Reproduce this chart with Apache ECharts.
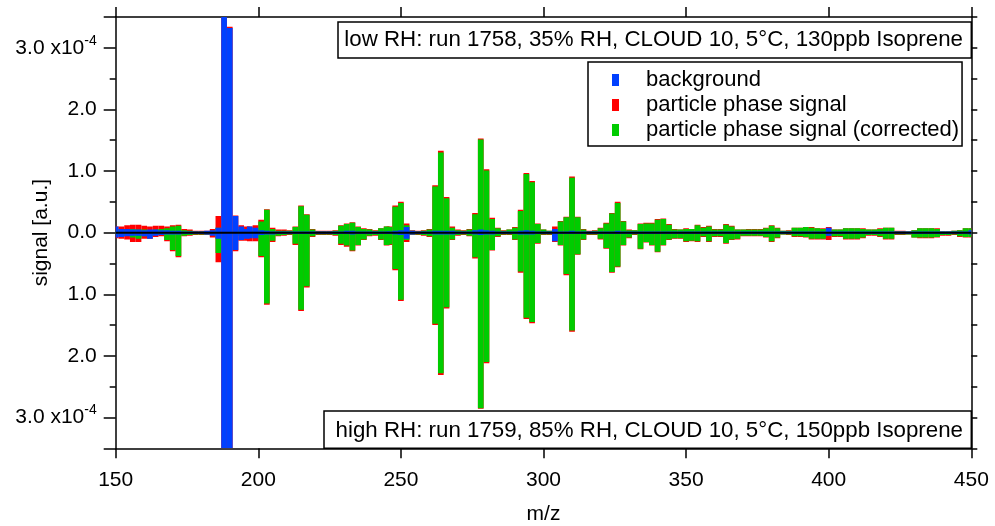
<!DOCTYPE html>
<html>
<head>
<meta charset="utf-8">
<title>signal vs m/z</title>
<script src="https://cdn.jsdelivr.net/npm/echarts@6/dist/echarts.min.js"></script>
<style>
  html, body { margin: 0; padding: 0; background: #fff; }
  #chart { width: 995px; height: 526px; }
</style>
</head>
<body>
<div id="chart"></div>
<script>
// bar centres (m/z), each bar is 2 units wide
var mz = [
  150,152,154,156,158,160,162,164,166,168,170,172,174,176,178,180,182,184,186,188,190,192,194,196,
  197,199,201,203,205,207,209,211,213,215,217,219,221,223,225,227,229,231,233,235,237,239,241,243,245,
  246,248,250,252,254,256,258,260,262,264,
  266,268,270,272,274,276,278,280,282,284,
  286,288,290,292,294,296,298,300,302,304,
  306,308,310,312,314,316,318,320,322,324,
  326,328,330,332,334,336,338,340,342,344,
  346,348,350,352,354,356,358,360,362,364,
  366,368,370,372,374,376,378,380,382,384,
  386,388,390,392,394,396,398,400,402,404,
  406,408,410,412,414,416,418,420,422,424,
  426,428,430,432,434,436,438,440,442,444,
  446,448,450
];

// low RH (upper half), signal in 1e-4
var lowSignal = [
  .10,.10,.12,.13,.13,.11,.10,.11,.11,.10,.12,.13,.06,.05,.03,.03,.03,.06,.27,3.6,3.34,.28,.12,.10,
  .10,.12,.21,.38,.08,.05,.05,.04,.10,.44,.30,.06,.03,.03,.03,.04,.12,.15,.17,.10,.07,.06,.04,.07,.10,
  .10,.44,.50,.15,.04,.03,.04,.06,.77,1.33,
  .58,.10,.05,.04,.06,.32,1.53,1.03,.24,.08,
  .04,.05,.09,.37,.97,.84,.15,.05,.03,.10,
  .19,.26,.91,.26,.06,.03,.04,.08,.16,.32,
  .50,.19,.05,.04,.15,.16,.16,.22,.23,.14,
  .06,.05,.07,.06,.13,.09,.11,.06,.06,.14,
  .11,.05,.05,.06,.06,.06,.08,.12,.08,.03,
  .04,.08,.08,.09,.09,.07,.07,.09,.05,.05,
  .07,.07,.07,.07,.05,.05,.07,.08,.08,.03,
  .03,.02,.04,.07,.07,.07,.07,.02,.02,.03,
  .04,.07,.07
];
var lowCorrected = [
  .04,.05,.06,.06,.05,.05,.04,.05,.06,.07,.10,.11,.04,.03,.02,.02,.02,.03,.08,0,0,.05,.05,.04,
  .03,.05,.18,.37,.06,.03,.03,.03,.09,.43,.29,.05,.02,.02,.02,.03,.11,.14,.16,.09,.06,.05,.03,.07,.10,
  .09,.42,.48,.12,.03,.02,.03,.05,.75,1.30,
  .56,.08,.04,.03,.05,.30,1.51,1.01,.22,.07,
  .03,.05,.08,.35,.95,.82,.14,.05,.03,.04,
  .18,.25,.89,.25,.05,.02,.03,.07,.15,.31,
  .48,.18,.04,.04,.14,.15,.15,.21,.22,.13,
  .05,.05,.06,.06,.12,.08,.10,.05,.05,.13,
  .10,.05,.05,.05,.05,.05,.07,.11,.07,.03,
  .03,.08,.08,.09,.08,.07,.06,.04,.05,.05,
  .07,.07,.07,.06,.05,.05,.06,.08,.08,.02,
  .02,.02,.04,.07,.07,.07,.06,.02,.02,.03,
  .04,.07,.07
];
var lowBackground = [
  .10,.06,.06,.05,.05,.04,.05,.05,.04,.04,.03,.03,.02,.02,.02,.02,.03,.04,.08,3.6,3.32,.27,.10,.06,
  .10,.08,.04,.03,.02,.02,.02,.02,.02,.02,.02,.02,.02,.02,.02,.02,.02,.03,.03,.02,.02,.02,.02,.02,.02,
  .02,.03,.04,.09,.03,.02,.02,.02,.03,.03,
  .03,.03,.02,.02,.02,.04,.05,.04,.03,.02,
  .02,.02,.02,.03,.04,.03,.02,.02,.02,.06,
  .02,.02,.03,.02,.02,.02,.02,.02,.02,.02,
  .03,.02,.02,.02,.02,.02,.02,.02,.02,.02,
  .02,.02,.02,.02,.02,.02,.02,.02,.02,.02,
  .02,.02,.02,.02,.02,.02,.02,.02,.02,.02,
  .02,.02,.02,.02,.02,.02,.02,.08,.02,.02,
  .02,.02,.02,.02,.02,.02,.02,.02,.02,.02,
  .02,.02,.02,.02,.02,.02,.02,.02,.02,.02,
  .02,.02,.04
];

// high RH (lower half, drawn downwards), signal in 1e-4
var highSignal = [
  .09,.10,.11,.15,.15,.10,.10,.07,.06,.14,.30,.40,.06,.05,.04,.04,.04,.08,.48,3.6,3.6,.30,.13,.13,
  .14,.14,.40,1.17,.15,.06,.05,.04,.20,1.27,.89,.07,.04,.04,.04,.05,.20,.23,.30,.21,.12,.06,.05,.12,.21,
  .20,.61,1.11,.15,.04,.04,.05,.07,1.50,2.31,
  1.23,.12,.05,.04,.06,.42,2.86,2.12,.29,.07,
  .04,.04,.12,.65,1.40,1.47,.18,.04,.04,.15,
  .21,.69,1.61,.36,.12,.04,.04,.11,.26,.65,
  .56,.21,.09,.04,.27,.16,.21,.32,.21,.12,
  .10,.10,.15,.14,.15,.07,.15,.07,.07,.18,
  .12,.11,.06,.06,.06,.06,.08,.15,.09,.03,
  .04,.07,.07,.08,.11,.11,.11,.12,.07,.07,
  .11,.11,.11,.09,.05,.05,.07,.11,.11,.04,
  .04,.03,.08,.09,.09,.09,.08,.05,.05,.04,
  .07,.08,.08
];
var highCorrected = [
  .04,.05,.05,.08,.10,.06,.05,.04,.04,.12,.28,.38,.05,.04,.03,.03,.03,.04,.33,0,0,.05,.05,.06,
  .06,.08,.38,1.15,.13,.05,.04,.03,.18,1.25,.87,.06,.03,.03,.03,.04,.18,.21,.29,.20,.11,.05,.04,.11,.20,
  .19,.59,1.09,.12,.03,.03,.04,.06,1.48,2.28,
  1.21,.11,.04,.03,.05,.40,2.85,2.10,.28,.06,
  .03,.03,.11,.63,1.38,1.45,.17,.03,.03,.05,
  .20,.67,1.59,.35,.11,.03,.03,.10,.25,.64,
  .55,.20,.08,.03,.26,.15,.20,.31,.20,.11,
  .09,.09,.14,.13,.14,.06,.14,.06,.06,.17,
  .11,.10,.05,.05,.05,.05,.07,.14,.08,.03,
  .03,.06,.06,.07,.10,.10,.10,.05,.06,.06,
  .10,.10,.10,.08,.04,.04,.06,.10,.10,.03,
  .03,.03,.08,.08,.08,.08,.07,.04,.04,.03,
  .06,.07,.07
];
var highBackground = [
  .08,.07,.06,.05,.05,.06,.10,.05,.04,.03,.03,.03,.02,.02,.02,.02,.03,.05,.10,3.6,3.6,.28,.12,.10,
  .09,.09,.04,.03,.03,.02,.02,.02,.02,.02,.02,.02,.02,.02,.02,.02,.02,.02,.03,.02,.02,.02,.02,.02,.02,
  .02,.03,.04,.10,.03,.02,.02,.02,.03,.03,
  .03,.03,.02,.02,.02,.03,.04,.03,.03,.02,
  .02,.02,.02,.03,.03,.03,.02,.02,.02,.14,
  .02,.02,.02,.02,.02,.02,.02,.02,.02,.02,
  .02,.02,.02,.02,.02,.02,.02,.02,.02,.02,
  .02,.02,.02,.02,.02,.02,.02,.02,.02,.02,
  .02,.02,.02,.02,.02,.02,.02,.02,.02,.02,
  .02,.02,.02,.02,.02,.02,.02,.05,.02,.02,
  .02,.02,.02,.02,.02,.02,.02,.02,.02,.02,
  .02,.02,.02,.02,.02,.02,.02,.02,.02,.02,
  .02,.02,.03
];

var xTicks = [150, 200, 250, 300, 350, 400, 450];
var yLabels = [-3, -2, -1, 0, 1, 2, 3];
var yMinor = [-2.5, -1.5, -0.5, 0.5, 1.5, 2.5];

var BLUE = '#0040ff', RED = '#ff0000', GREEN = '#00cc00';
var FONT = 'Liberation Sans, Arial, sans-serif';

function pairs(vals, sign) {
  return mz.map(function (m, i) { return [m, sign * vals[i]]; });
}

// 2 m/z wide bar from 0 to the value
function barItem(params, api) {
  var c = api.value(0), v = api.value(1);
  var a = api.coord([c - 1, v]);
  var b = api.coord([c + 1, 0]);
  var cs = params.coordSys;
  var rect = echarts.graphic.clipRectByRect(
    { x: a[0], y: Math.min(a[1], b[1]), width: b[0] - a[0], height: Math.abs(b[1] - a[1]) },
    { x: cs.x, y: cs.y, width: cs.width, height: cs.height }
  );
  return rect && { type: 'rect', shape: rect, style: { fill: api.visual('color') } };
}

function bars(name, color, vals, sign) {
  return {
    name: name, type: 'custom', renderItem: barItem,
    itemStyle: { color: color },
    encode: { x: 0, y: 1 },
    data: pairs(vals, sign),
    clip: true
  };
}

var chart = echarts.init(document.getElementById('chart'));
var axisLine = { show: true, onZero: false, lineStyle: { color: '#000', width: 1.5 } };

chart.setOption({
  animation: false,
  textStyle: { fontFamily: FONT },
  grid: { left: 115.7, right: 23.7, top: 17, bottom: 77.7, outerBoundsMode: 'none', containLabel: false },
  legend: {
    data: ['background', 'particle phase signal', 'particle phase signal (corrected)'],
    orient: 'vertical',
    left: 588, top: 62,
    padding: [7, 3, 5, 24],
    itemGap: 3,
    itemWidth: 7, itemHeight: 12,
    icon: 'rect',
    borderColor: '#000', borderWidth: 1.5,
    backgroundColor: '#fff',
    textStyle: { fontSize: 22, color: '#000', fontFamily: FONT, padding: [0, 0, 0, 22] }
  },
  xAxis: [{
    type: 'value', position: 'bottom', min: 150, max: 450, interval: 50,
    axisLine: axisLine,
    axisTick: { length: 10, lineStyle: { width: 1.5, color: '#000' } },
    axisLabel: { fontSize: 21, color: '#000', margin: 21, customValues: xTicks },
    splitLine: { show: false },
    name: 'm/z', nameLocation: 'middle', nameGap: 55,
    nameTextStyle: { fontSize: 21, color: '#000' }
  }, {
    type: 'value', position: 'top', min: 150, max: 450, interval: 50,
    axisLine: axisLine,
    axisTick: { length: 10, lineStyle: { width: 1.5, color: '#000' } },
    axisLabel: { show: false },
    splitLine: { show: false }
  }],
  yAxis: [{
    type: 'value', position: 'left', min: -3.5, max: 3.5, interval: 0.5,
    axisLine: axisLine,
    axisTick: { length: 12, lineStyle: { width: 1.5, color: '#000' }, customValues: [-3.5].concat(yLabels, [3.5]) },
    axisLabel: {
      fontSize: 21, color: '#000', margin: 19, customValues: yLabels,
      formatter: function (v) {
        var s = Math.abs(v).toFixed(1);
        return Math.abs(v) === 3 ? '{m|' + s + ' x10}{s|-4}' : s;
      },
      rich: {
        m: { fontSize: 21, color: '#000', fontFamily: FONT },
        s: { fontSize: 14, color: '#000', fontFamily: FONT, padding: [0, 0, 14, 0] }
      }
    },
    splitLine: { show: false },
    name: 'signal [a.u.]', nameLocation: 'middle', nameGap: 64, nameMoveOverlap: false,
    nameTextStyle: { fontSize: 21, color: '#000' }
  }, {
    type: 'value', position: 'left', min: -3.5, max: 3.5, interval: 0.5,
    axisLine: { show: false, onZero: false },
    axisTick: { length: 6, lineStyle: { width: 1.5, color: '#000' }, customValues: yMinor },
    axisLabel: { show: false },
    splitLine: { show: false }
  }, {
    type: 'value', position: 'right', min: -3.5, max: 3.5, interval: 0.5,
    axisLine: axisLine,
    axisTick: { length: 6, lineStyle: { width: 1.5, color: '#000' } },
    axisLabel: { show: false },
    splitLine: { show: false }
  }],
  graphic: [
    { type: 'rect', shape: { x: 338, y: 22, width: 633.3, height: 36 },
      style: { fill: '#fff', stroke: '#000', lineWidth: 1.5 }, z: 100 },
    { type: 'text', x: 963, y: 40, z: 101,
      style: { text: 'low RH: run 1758, 35% RH, CLOUD 10, 5°C, 130ppb Isoprene',
        font: '22.3px ' + FONT, fill: '#000', align: 'right', verticalAlign: 'middle' } },
    { type: 'rect', shape: { x: 324, y: 411, width: 647.3, height: 37.3 },
      style: { fill: '#fff', stroke: '#000', lineWidth: 1.5 }, z: 100 },
    { type: 'text', x: 963, y: 431, z: 101,
      style: { text: 'high RH: run 1759, 85% RH, CLOUD 10, 5°C, 150ppb Isoprene',
        font: '22.3px ' + FONT, fill: '#000', align: 'right', verticalAlign: 'middle' } }
  ],
  series: [
    bars('particle phase signal', RED, lowSignal, 1),
    bars('particle phase signal', RED, highSignal, -1),
    bars('particle phase signal (corrected)', GREEN, lowCorrected, 1),
    bars('particle phase signal (corrected)', GREEN, highCorrected, -1),
    bars('background', BLUE, lowBackground, 1),
    bars('background', BLUE, highBackground, -1),
    {
      type: 'line', silent: true, symbol: 'none', z: 5,
      lineStyle: { color: '#000', width: 2 },
      data: [[150, 0], [450, 0]]
    }
  ]
});
</script>
</body>
</html>
